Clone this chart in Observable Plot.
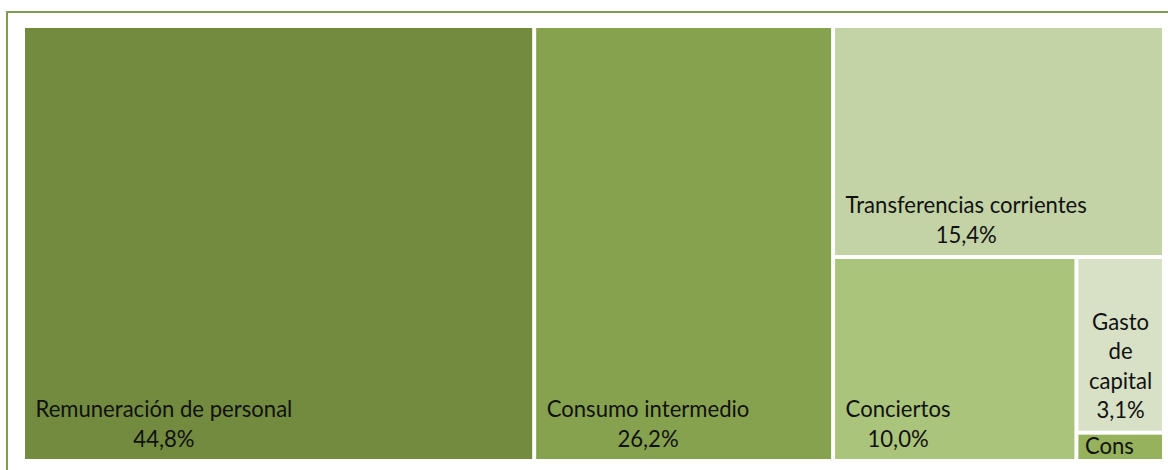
<!DOCTYPE html>
<html>
<head>
<meta charset="utf-8">
<script src="https://cdn.jsdelivr.net/npm/d3@7"></script>
<script src="https://cdn.jsdelivr.net/npm/@observablehq/plot@0.6"></script>
<style>
  html, body { margin: 0; padding: 0; background: #fff; }
  #wrap { position: relative; width: 1168px; height: 470px; overflow: hidden; }
  #chart { position: absolute; left: 0; top: 0; }
  #frame { position: absolute; left: 6px; top: 11px; width: 1300px; height: 600px;
           border-left: 2px solid #7f9c4f; border-top: 2px solid #7f9c4f;
           box-sizing: border-box; pointer-events: none; }
</style>
</head>
<body>
<div id="wrap"><div id="chart"></div><div id="frame"></div></div>
<script>
// ---- data ----
const categories = [
  "Remuneración de personal",
  "Consumo intermedio",
  "Transferencias corrientes",
  "Conciertos",
  "Gasto de capital",
  "Consumo de capital fijo"
];
const values = [44.8, 26.2, 15.4, 10.0, 3.1, 0.5];
const colors = ["#728b3f", "#87a24e", "#c3d3a6", "#aac47b", "#d8e1c6", "#97b25c"];

// ---- layout ----
const W = 1137, H = 431;
const root = d3.hierarchy({children: categories.map((c, i) => ({name: c, value: values[i], color: colors[i]}))})
  .sum(d => d.value || 0);
d3.treemap().size([W, H]).paddingInner(4).tile(d3.treemapSquarify.ratio(1))(root);
const tiles = root.leaves().map(n => ({
  name: n.data.name, value: n.data.value, color: n.data.color,
  x0: n.x0, x1: n.x1, y0: n.y0, y1: n.y1
}));

// ---- text metrics ----
const FONT = "Lato";
const ctx = document.createElement("canvas").getContext("2d");
function tw(s, fs) { ctx.font = `${fs}px ${FONT}`; return ctx.measureText(s).width; }
let FS = 22 * 203 / tw("Consumo intermedio", 22);
if (!(FS > 14 && FS < 30)) FS = 22;
FS = Math.round(FS * 10) / 10;

const fmt = v => v.toFixed(1).replace(".", ",") + "%";
const INSET = 10, LH = 29.5, BOTTOM = 13;

function wrap(name, maxW) {
  if (tw(name, FS) <= maxW) return [name];
  const words = name.split(" ");
  const out = [];
  let cur = "";
  for (const w of words) {
    const t = cur ? cur + " " + w : w;
    if (cur && tw(t, FS) > maxW) { out.push(cur); cur = w; } else cur = t;
  }
  out.push(cur);
  return out;
}

const lines = [];
const clipped = [];
tiles.forEach((t, ti) => {
  const w = t.x1 - t.x0, h = t.y1 - t.y0;
  const ls = wrap(t.name, w - 2 * INSET).concat([fmt(t.value)]);
  const needed = ls.length * LH + BOTTOM;
  if (needed > h) {
    // too small: only a clipped fragment of the name is visible
    clipped.push({ti, text: t.name.slice(0, 4), x: t.x0 + 6, y: t.y1 - 6, tile: t});
    return;
  }
  const bw = d3.max(ls, s => tw(s, FS));
  const cx = bw > w - 2 * INSET ? (t.x0 + t.x1) / 2 : t.x0 + INSET + bw / 2;
  const n = ls.length;
  ls.forEach((s, k) => lines.push({text: s, x: cx, y: t.y1 - BOTTOM - (n - 1 - k) * LH}));
});

const marks = [
  Plot.rect(tiles, {x1: "x0", x2: "x1", y1: "y0", y2: "y1", fill: d => d.color}),
  Plot.text(lines, {x: "x", y: "y", text: "text", textAnchor: "middle", lineAnchor: "bottom",
                    fill: "#111", fontSize: FS, fontFamily: FONT})
];
clipped.forEach((c, i) => {
  marks.push(Plot.text([c], {x: "x", y: "y", text: "text", textAnchor: "start", lineAnchor: "bottom",
                             fill: "#111", fontSize: FS, fontFamily: FONT, ariaLabel: "clip-" + i}));
});

const svg = Plot.plot({
  width: 1168,
  height: 470,
  marginLeft: 0, marginRight: 0, marginTop: 0, marginBottom: 0,
  x: {domain: [0, W], range: [25, 1162], axis: null},
  y: {domain: [0, H], range: [28, 459], axis: null},
  color: {type: "identity"},
  style: {background: "transparent", fontFamily: FONT},
  marks
});

const sx = svg.scale("x"), sy = svg.scale("y");
const sel = d3.select(svg);
const defs = sel.insert("defs", ":first-child");
clipped.forEach((c, i) => {
  const t = c.tile;
  const x0 = sx.apply(t.x0), x1 = sx.apply(t.x1), y0 = sy.apply(t.y0), y1 = sy.apply(t.y1);
  defs.append("clipPath").attr("id", "cp-" + i)
    .append("rect").attr("x", x0).attr("y", y0 + 5).attr("width", x1 - x0).attr("height", y1 - y0 - 5);
  sel.select(`g[aria-label="clip-${i}"]`).attr("clip-path", `url(#cp-${i})`);
});

document.getElementById("chart").appendChild(svg);
</script>
</body>
</html>
